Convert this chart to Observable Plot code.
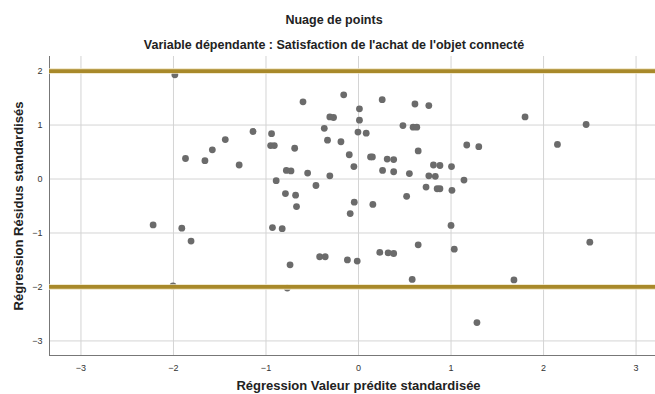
<!DOCTYPE html>
<html>
<head>
<meta charset="utf-8">
<script src="https://cdn.jsdelivr.net/npm/d3@7"></script>
<script src="https://cdn.jsdelivr.net/npm/@observablehq/plot@0.6"></script>
<style>
  html, body { margin: 0; padding: 0; background: #fff; }
  #wrap { position: relative; width: 655px; height: 394px; font-family: "Liberation Sans", Arial, sans-serif; }
  .t { position: absolute; left: 334px; transform: translateX(-50%); white-space: nowrap; font-weight: bold; color: #222; font-size: 12.5px; }
  #chart { position: absolute; left: 0; top: 56px; }
</style>
</head>
<body>
<div id="wrap">
  <div class="t" style="top:13px">Nuage de points</div>
  <div class="t" style="top:38px">Variable dépendante : Satisfaction de l'achat de l'objet connecté</div>
  <div id="chart"></div>
</div>
<script>
const predicted = [
  -1.985, -1.87, -1.66, -1.58, -1.44, -1.29, -1.14, -0.94, -0.95, -0.91,
  -0.60, -0.69, -0.78, -0.73, -0.89, -0.55, -0.46, -0.79, -0.68, -0.67,
  -0.37, -0.335, -0.31, -0.31, -0.27, -0.16, 0.256, 0.01, 0.01, -0.19,
  -0.006, 0.083, -0.10, 0.13, 0.15, 0.31, 0.38, -0.05, 0.26, 0.38,
  0.55, -0.046, 0.155, -0.09, 0.61, 0.76, 0.48, 0.59, 0.63, 1.17,
  1.30, 0.645, 0.81, 0.88, 1.005, 0.76, 0.83, 1.14, 0.73, 0.85,
  0.88, 1.01, 0.52, 1.80, 2.46, 2.15, -2.22, -1.91, -1.81, -2.005,
  -0.93, -0.825, -0.74, -0.77, -0.42, -0.36, 1.00, 0.645, 1.035, 2.50,
  -0.12, -0.014, 0.23, 0.32, 0.38, 0.58, 1.68, 1.28
];
const residuals = [
  1.93, 0.38, 0.34, 0.54, 0.73, 0.26, 0.88, 0.84, 0.62, 0.62,
  1.43, 0.57, 0.16, 0.15, -0.03, 0.11, -0.12, -0.27, -0.30, -0.51,
  0.94, 0.72, 0.06, 1.15, 1.14, 1.56, 1.47, 1.30, 1.09, 0.69,
  0.87, 0.85, 0.45, 0.41, 0.41, 0.37, 0.36, 0.23, 0.16, 0.135,
  0.10, -0.43, -0.47, -0.64, 1.39, 1.36, 0.99, 0.96, 0.96, 0.63,
  0.60, 0.52, 0.26, 0.25, 0.23, 0.06, 0.05, -0.02, -0.15, -0.18,
  -0.18, -0.21, -0.32, 1.15, 1.01, 0.64, -0.85, -0.91, -1.15, -1.98,
  -0.90, -0.92, -1.59, -2.02, -1.44, -1.44, -0.86, -1.22, -1.30, -1.17,
  -1.50, -1.52, -1.36, -1.37, -1.38, -1.86, -1.87, -2.66
];
const refLines = [2, -2];
const xTicks = [-3, -2, -1, 0, 1, 2, 3];
const yTicks = [-3, -2, -1, 0, 1, 2];
const xLabel = "Régression Valeur prédite standardisée";
const yLabel = "Régression Résidus standardisés";

const data = predicted.map((x, i) => ({x, y: residuals[i]}));
const fmt = d => d < 0 ? "\u2212" + Math.abs(d) : String(d);

const chart = Plot.plot({
  width: 655,
  height: 338,
  marginTop: 0,
  marginLeft: 49,
  marginRight: 0,
  marginBottom: 39,
  style: {fontFamily: "Liberation Sans, Arial, sans-serif", fontSize: "9px", color: "#333", background: "#fff"},
  x: {domain: [-3.34, 3.21]},
  y: {domain: [-3.27, 2.27]},
  marks: [
    Plot.gridX(xTicks, {stroke: "#d4d4d4", strokeOpacity: 1, strokeWidth: 1}),
    Plot.gridY(yTicks, {stroke: "#d4d4d4", strokeOpacity: 1, strokeWidth: 1}),
    Plot.axisX(xTicks, {tickSize: 0, tickPadding: 9, tickFormat: fmt, label: null, fill: "#333"}),
    Plot.axisY(yTicks, {tickSize: 0, tickPadding: 7, tickFormat: fmt, label: null, fill: "#333"}),
    Plot.frame({anchor: "left", stroke: "#777"}),
    Plot.frame({anchor: "bottom", stroke: "#777"}),
    Plot.dot(data, {x: "x", y: "y", r: 3.4, fill: "#6b6b6b", stroke: "none"}),
    Plot.ruleY(refLines, {stroke: "#eee3c0", strokeWidth: 5.5}),
    Plot.ruleY(refLines, {stroke: "#a8892a", strokeWidth: 3.8}),
    Plot.text([xLabel], {frameAnchor: "bottom", dx: 6, dy: 30, text: d => d, fontWeight: "bold", fontSize: 13, fill: "#222", lineAnchor: "middle", textAnchor: "middle"}),
    Plot.text([yLabel], {frameAnchor: "left", dx: -31, text: d => d, rotate: -90, fontWeight: "bold", fontSize: 13, fill: "#222", lineAnchor: "middle", textAnchor: "middle"})
  ]
});
document.getElementById("chart").appendChild(chart);
</script>
</body>
</html>
